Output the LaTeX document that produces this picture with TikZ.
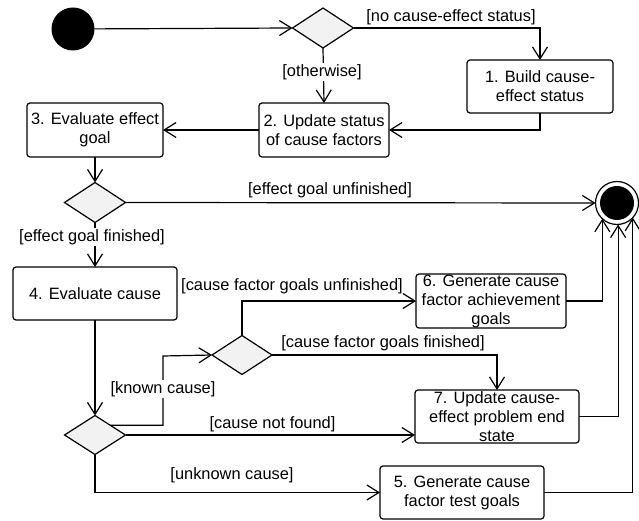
\documentclass[tikz,border=0pt]{standalone}
\usepackage{fontspec}
\setmainfont{Liberation Sans}
\usetikzlibrary{shapes.geometric,arrows.meta,calc}
\begin{document}
\begin{tikzpicture}[x=1pt,y=-1pt,
  every node/.style={font=\fontsize{16.4}{19}\selectfont},
  box/.style={draw, rounded corners=3pt, line width=1.2pt, align=center, inner sep=0pt, outer sep=0pt, fill=white},
  dec/.style={draw, diamond, fill=black!5, line width=1.2pt, minimum width=61pt, minimum height=40pt, inner sep=0pt, outer sep=0pt},
  flow/.style={line width=1.2pt, -{Straight Barb[length=12pt,width=15pt]}},
  lbl/.style={inner sep=1pt},
  wlbl/.style={fill=white, inner sep=1pt}
]
\useasboundingbox (0,0) rectangle (639,521);

% nodes
\node[circle, fill=black, minimum size=43pt, inner sep=0pt, outer sep=0pt] (start) at (73,29) {};
\node[dec] (d1) at (323,28) {};
\node[box, minimum width=146pt, minimum height=53pt] (b1) at (540,86.5) {1. Build cause-\\effect status};
\node[box, minimum width=130pt, minimum height=54pt] (b2) at (324,130) {2. Update status\\of cause factors};
\node[box, minimum width=136pt, minimum height=54pt] (b3) at (95,130) {3. Evaluate effect\\goal};
\node[dec] (d2) at (95,202.5) {};
\node[circle, draw, line width=1.2pt, fill=white, minimum size=43pt, inner sep=0pt, outer sep=0pt] (fin) at (617,203) {};
\node[circle, fill=black, minimum size=34pt, inner sep=0pt] (finc) at (fin) {};
\node[box, minimum width=164pt, minimum height=53pt] (b4) at (95,293.5) {4. Evaluate cause};
\node[dec, minimum height=39pt] (d3) at (95,435) {};
\node[dec, minimum width=60pt, minimum height=39pt] (d4) at (242,355) {};
\node[box, minimum width=150pt, minimum height=54pt] (b6) at (491,301) {6. Generate cause\\factor achievement\\goals};
\node[box, minimum width=164pt, minimum height=53pt] (b7) at (497,416.5) {7. Update cause-\\effect problem end\\state};
\node[box, minimum width=164pt, minimum height=53pt] (b5) at (462,492.5) {5. Generate cause\\factor test goals};
\coordinate (kc) at (163,356);

% connectors
\draw[flow] (start) -- (d1.west);
\draw[flow] (d1.east) -| (b1.north);
\draw[flow] (d1.south) -- (b2.north);
\draw[flow] (b1.south) |- (b2.east);
\draw[flow] (b2.west) -- (b3.east);
\draw[flow] (b3.south) -- (d2.north);
\draw[flow] (d2.east) -- (fin.west);
\draw[flow] (d2.south) -- (b4.north);
\draw[flow] (b4.south) -- (d3.north);
\draw[flow] (d3.north east) -| (kc) -- (d4.west);
\draw[flow] (d4.north) |- (b6.west);
\draw[flow] (d4.east) -| (b7.north);
\draw[flow] (d3.east) -- (d3.east -| b7.west);
\draw[flow] (d3.south) |- (b5.west);
\draw[flow] (b6.east) -| (fin.-133);
\draw[flow] (b7.east) -| (fin.-87);
\draw[flow] (b5.east) -| (fin.-43);

% labels
\node[lbl] (l1) at (451,17) {[no cause-effect status]};
\node[wlbl] (l2) at (322,72) {[otherwise]};
\node[lbl] (l3) at (330,190) {[effect goal unfinished]};
\node[wlbl] (l4) at (92,237) {[effect goal finished]};
\node[lbl] (l5) at (292,286) {[cause factor goals unfinished]};
\node[lbl] (l6) at (383,343) {[cause factor goals finished]};
\node[wlbl] (l7) at (163,389) {[known cause]};
\node[lbl] (l8) at (272.5,424) {[cause not found]};
\node[lbl] (l9) at (232,475) {[unknown cause]};
\end{tikzpicture}
\end{document}
